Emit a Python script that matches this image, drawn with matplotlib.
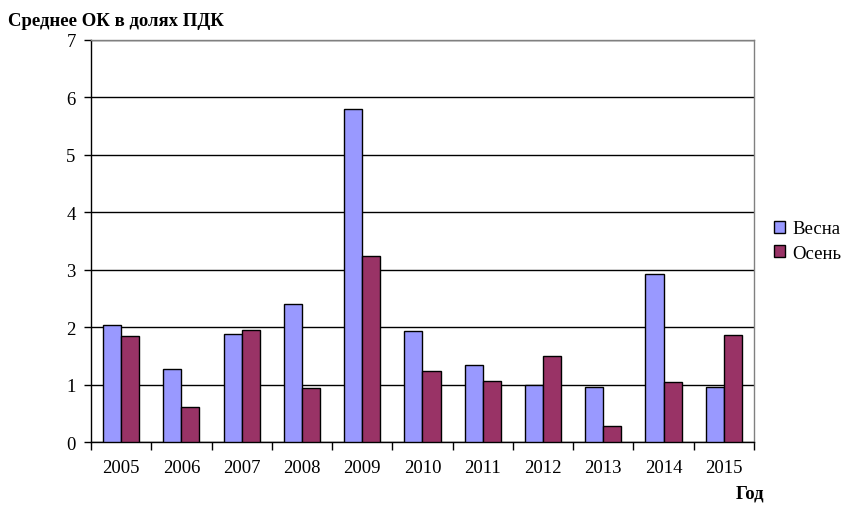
import numpy as np
import matplotlib
matplotlib.use('Agg')
import matplotlib.pyplot as plt

plt.rcParams['font.family'] = ['Liberation Serif', 'DejaVu Serif']

years = ['2005', '2006', '2007', '2008', '2009', '2010',
         '2011', '2012', '2013', '2014', '2015']
spring = [2.03, 1.27, 1.88, 2.40, 5.80, 1.93, 1.34, 0.99, 0.96, 2.93, 0.96]
autumn = [1.84, 0.61, 1.95, 0.94, 3.24, 1.24, 1.06, 1.50, 0.28, 1.04, 1.86]

fig = plt.figure(figsize=(8.45, 5.1), dpi=100)
ax = fig.add_axes([0.1077, 0.131, 0.7845, 0.789])

x = np.arange(len(years))
w = 0.3
ax.bar(x - w / 2, spring, w, color='#9999FF', edgecolor='black', linewidth=1, label='Весна', zorder=3)
ax.bar(x + w / 2, autumn, w, color='#993366', edgecolor='black', linewidth=1, label='Осень', zorder=3)

ax.set_xlim(-0.5, len(years) - 0.5)
ax.set_ylim(0, 7)
ax.set_yticks(range(0, 8))
ax.yaxis.grid(True, color='black', linewidth=1, zorder=0)
ax.set_axisbelow(True)

ax.set_xticks(x)
ax.set_xticklabels(years)
ax.set_xticks(np.arange(-0.5, len(years)), minor=True)
ax.tick_params(axis='x', which='major', length=0, pad=12, labelsize=13.5)
ax.tick_params(axis='x', which='minor', length=6, width=1, direction='out')
ax.tick_params(axis='y', length=5, width=1, labelsize=13.5, pad=6)

for s in ['left', 'bottom']:
    ax.spines[s].set_color('black')
    ax.spines[s].set_linewidth(1)
for s in ['top', 'right']:
    ax.spines[s].set_color('#808080')
    ax.spines[s].set_linewidth(1)

fig.text(0.01, 0.957, 'Среднее ОК в долях ПДК', fontsize=13.5, fontweight='bold', ha='left', va='center')
fig.text(0.888, 0.015, 'Год', fontsize=13.5, fontweight='bold', ha='center', va='bottom')

ax.legend(loc='center left', bbox_to_anchor=(1.01, 0.5), frameon=False, fontsize=13.5,
          handlelength=0.6, handleheight=0.6, handletextpad=0.4, labelspacing=0.4,
          borderpad=0.2)

fig.savefig('out.png', dpi=100)
